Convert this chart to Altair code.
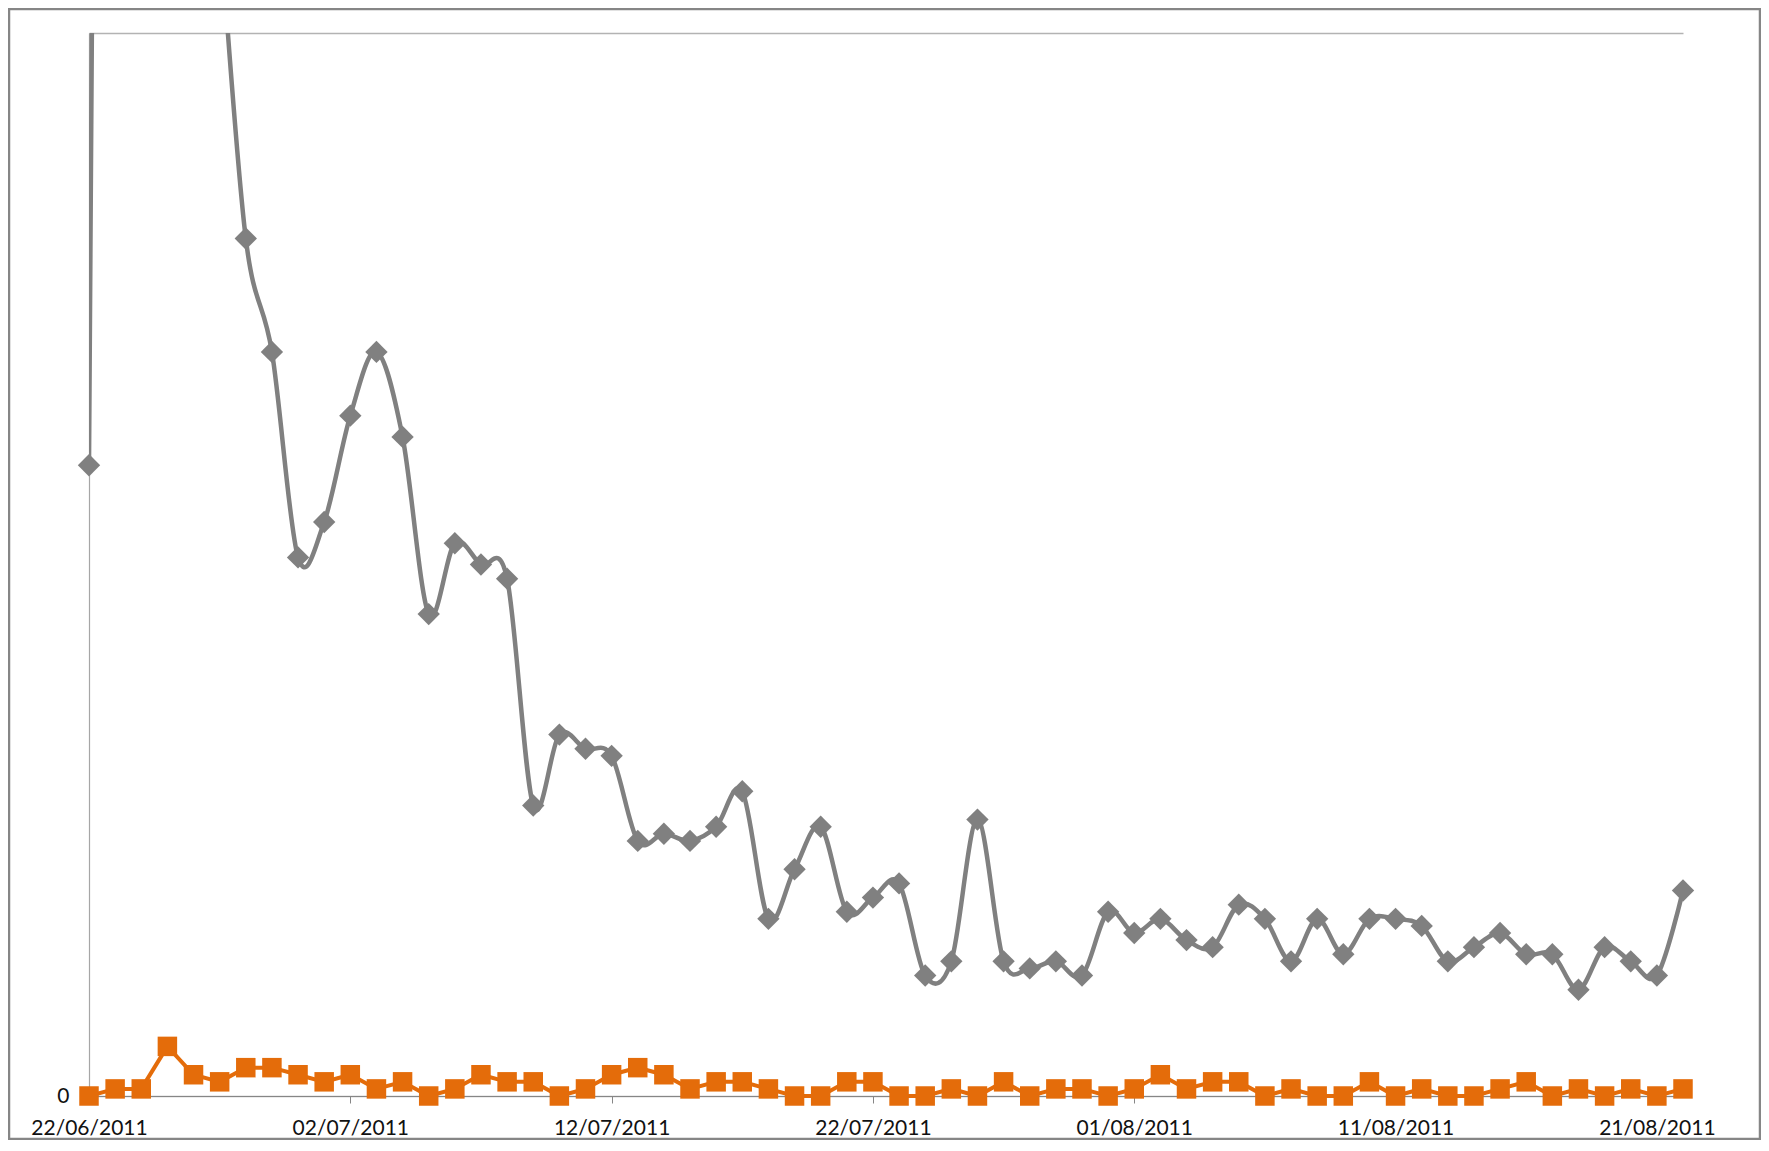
import altair as alt
import pandas as pd

# ---- data (one value per day) ----
start_date = "2011-06-22"
n_days = 62
dates = [d.strftime("%Y-%m-%d") for d in pd.date_range(start_date, periods=n_days, freq="D")]

gray_values = [89, 550, 400, 290, 212, 165, 121, 105, 76, 81,
               96, 105, 93, 68, 78, 75, 73, 41, 51, 49,
               48, 36, 37, 36, 38, 43, 25, 32, 38, 26,
               28, 30, 17, 19, 39, 19, 18, 19, 17, 26,
               23, 25, 22, 21, 27, 25, 19, 25, 20, 25,
               25, 24, 19, 21, 23, 20, 20, 15, 21, 19,
               17, 29]
orange_values = [0, 1, 1, 7, 3, 2, 4, 4, 3, 2,
                 3, 1, 2, 0, 1, 3, 2, 2, 0, 1,
                 3, 4, 3, 1, 2, 2, 1, 0, 0, 2,
                 2, 0, 0, 1, 0, 2, 0, 1, 1, 0,
                 1, 3, 1, 2, 2, 0, 1, 0, 0, 2,
                 0, 1, 0, 0, 1, 2, 0, 1, 0, 1,
                 0, 1]
tick_dates = ["2011-06-22", "2011-07-02", "2011-07-12", "2011-07-22",
              "2011-08-01", "2011-08-11", "2011-08-21"]
y_domain = [0, 150]
y_ticks = [0, 150]

df = pd.DataFrame({"date": dates, "gray": gray_values, "orange": orange_values})

W, H = 1594, 1063
PAD = {"left": 81, "top": 25, "right": 78, "bottom": 44}
FONT = "Lato"
GRAY = "#808080"
ORANGE = "#E46C0A"


def dt(s):
    y, m, d = (int(p) for p in s.split("-"))
    return alt.DateTime(year=y, month=m, date=d, utc=True)


x_scale = alt.Scale(type="utc", domain=[dt(dates[0]), dt(dates[-1])], nice=False)
y_scale = alt.Scale(domain=y_domain, nice=False, zero=True)

x_axis = alt.Axis(values=[dt(s) for s in tick_dates], format="%d/%m/%Y",
                  title=None, grid=False, ticks=True, tickSize=7,
                  tickColor="#868686", domainColor="#868686", domainWidth=1.2,
                  labelFont=FONT, labelFontSize=21, labelColor="#111111",
                  labelPadding=14, labelFlush=False, labelOverlap=False)
y_axis = alt.Axis(values=y_ticks, labelExpr="datum.value == 0 ? '0' : ''",
                  title=None, grid=True, gridColor="#b3b3b3", gridWidth=1.5,
                  ticks=False, domainColor="#a6a6a6", domainWidth=1.2,
                  labelFont=FONT, labelFontSize=21, labelColor="#111111",
                  labelPadding=20, labelBaseline="middle")

base = alt.Chart(df)
X = alt.X("date:T", scale=x_scale, axis=x_axis)

gray_line = base.mark_line(color=GRAY, strokeWidth=4.5, interpolate="cardinal",
                           clip=True).encode(
    x=X, y=alt.Y("gray:Q", scale=y_scale, axis=y_axis),
)
gray_pts = base.transform_filter(f"datum.gray <= {y_domain[1]}").mark_point(
    shape="diamond", filled=True, size=500, opacity=1, color=GRAY).encode(
    x=X, y=alt.Y("gray:Q", scale=y_scale, axis=y_axis),
)
orange_line = base.mark_line(color=ORANGE, strokeWidth=4).encode(
    x=X, y=alt.Y("orange:Q", scale=y_scale, axis=y_axis),
)
orange_pts = base.mark_point(shape="square", filled=True, size=380, opacity=1,
                             color=ORANGE).encode(
    x=X, y=alt.Y("orange:Q", scale=y_scale, axis=y_axis),
)

frame = alt.Chart(pd.DataFrame({"f": [0]})).mark_rect(
    filled=False, stroke="#868686", strokeWidth=2.5).encode(
    x=alt.value(-PAD["left"] + 1), x2=alt.value(W + PAD["right"] - 1),
    y=alt.value(-PAD["top"] + 1), y2=alt.value(H + PAD["bottom"] - 1),
)

chart = alt.layer(gray_line, gray_pts, orange_line, orange_pts, frame).properties(
    width=W, height=H,
    autosize=alt.AutoSizeParams(type="none"),
    padding=PAD,
    background="white",
).configure_view(stroke=None)

chart.save("out.html", embed_options={"renderer": "svg", "actions": False})
